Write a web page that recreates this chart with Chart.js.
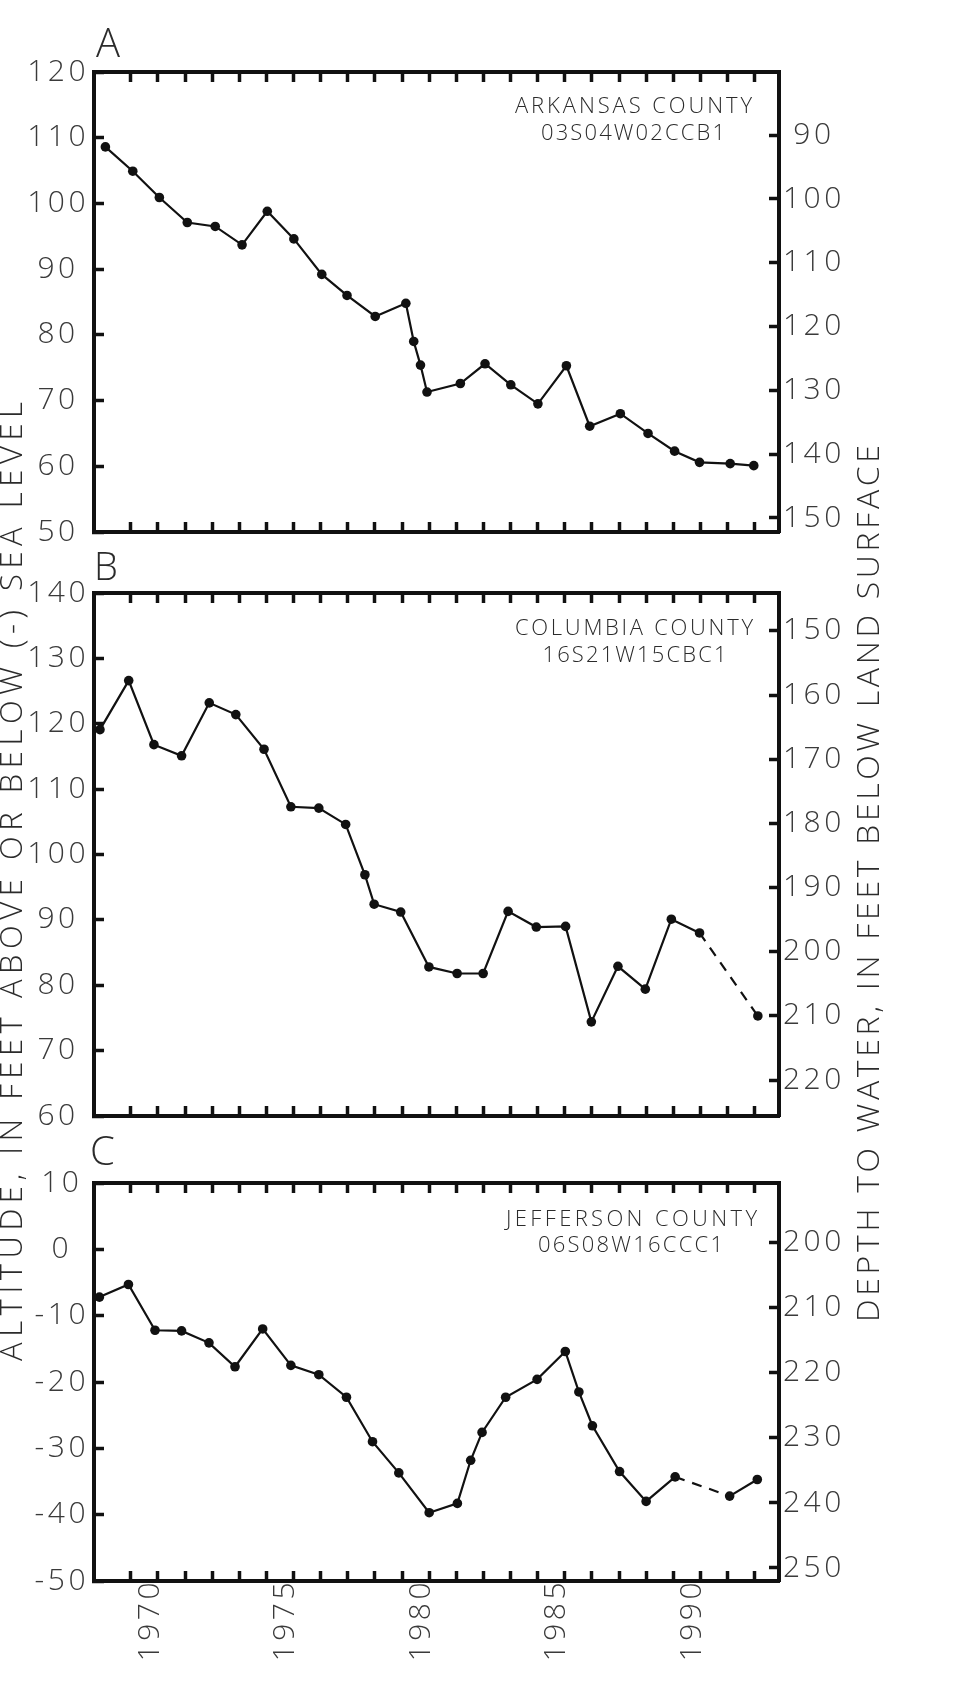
<!DOCTYPE html>
<html>
<head>
<meta charset="utf-8">
<script src="https://cdn.jsdelivr.net/npm/chart.js@4.4.1/dist/chart.umd.min.js"></script>
<style>
  html, body { margin: 0; padding: 0; background: #fff; }
  #page { position: relative; width: 972px; height: 1684px; overflow: hidden; background: #fff; }
  canvas { position: absolute; left: 0; }
  svg { position: absolute; left: 0; top: 0; }
  svg text { font-family: 'Open Sans', 'DejaVu Sans', sans-serif; font-weight: 300; fill: #2b2b2b; }
</style>
</head>
<body>
<div id="page">
  <canvas id="chartA" width="972" height="533" style="top:32px"></canvas>
  <canvas id="chartB" width="972" height="596" style="top:553px"></canvas>
  <canvas id="chartC" width="972" height="541" style="top:1143px"></canvas>
  <svg width="972" height="1684">
    <text x="96" y="57" font-size="40">A</text>
    <text x="94" y="580" font-size="38">B</text>
    <text x="90" y="1165" font-size="40">C</text>

    <text x="633.5" y="112.5" font-size="22" text-anchor="middle" textLength="237" lengthAdjust="spacing">ARKANSAS COUNTY</text>
    <text x="633" y="140" font-size="22" text-anchor="middle" textLength="184" lengthAdjust="spacing">03S04W02CCB1</text>
    <text x="634" y="635" font-size="22" text-anchor="middle" textLength="238" lengthAdjust="spacing">COLUMBIA COUNTY</text>
    <text x="634.5" y="661.5" font-size="22" text-anchor="middle" textLength="184" lengthAdjust="spacing">16S21W15CBC1</text>
    <text x="631.5" y="1225.5" font-size="22" text-anchor="middle" textLength="251" lengthAdjust="spacing">JEFFERSON COUNTY</text>
    <text x="630.5" y="1252" font-size="22" text-anchor="middle" textLength="185" lengthAdjust="spacing">06S08W16CCC1</text>

    <text transform="translate(22,881.5) rotate(-90)" text-anchor="middle" font-size="31" textLength="959" lengthAdjust="spacing">ALTITUDE, IN FEET ABOVE OR BELOW (-) SEA LEVEL</text>
    <text transform="translate(879,883.5) rotate(-90)" text-anchor="middle" font-size="32" textLength="877" lengthAdjust="spacing">DEPTH TO WATER, IN FEET BELOW LAND SURFACE</text>
  </svg>
</div>
<script>
// shared time axis: a tick every year, a label every five
const yearTicks = [1969, 1970, 1971, 1972, 1973, 1974, 1975, 1976, 1977, 1978, 1979, 1980,
                   1981, 1982, 1983, 1984, 1985, 1986, 1987, 1988, 1989, 1990, 1991, 1992];
const yearLabels = [1970, 1975, 1980, 1985, 1990];
const X_MIN = 1967.64, X_MAX = 1992.9;

// A - Arkansas County well 03S04W02CCB1
const yearsA = [1968.06, 1969.07, 1970.05, 1971.08, 1972.11, 1973.1, 1974.03, 1975.01, 1976.04, 1976.97,
                1978.01, 1979.14, 1979.43, 1979.68, 1979.92, 1981.15, 1982.06, 1983.01, 1984.01, 1985.06,
                1985.92, 1987.05, 1988.07, 1989.05, 1989.97, 1991.1, 1991.97];
const altA = [108.6, 104.9, 100.9, 97.1, 96.5, 93.7, 98.8, 94.6, 89.2, 86.0,
              82.8, 84.8, 79.0, 75.4, 71.3, 72.6, 75.6, 72.4, 69.5, 75.3,
              66.1, 68.0, 65.0, 62.3, 60.6, 60.4, 60.1];
const depthTicksA = [90, 100, 110, 120, 130, 140, 150];

// B - Columbia County well 16S21W15CBC1
const yearsB = [1967.86, 1968.92, 1969.85, 1970.87, 1971.89, 1972.87, 1973.91, 1974.9, 1975.93, 1976.92,
                1977.63, 1977.97, 1978.95, 1979.99, 1981.03, 1981.99, 1982.91, 1983.95, 1985.03, 1985.98,
                1986.96, 1987.97, 1988.93, 1989.97, 1992.12];
const altB = [119.1, 126.6, 116.8, 115.1, 123.2, 121.4, 116.1, 107.3, 107.1, 104.6,
              96.9, 92.4, 91.2, 82.8, 81.8, 81.8, 91.3, 88.9, 89.0, 74.4,
              82.9, 79.4, 90.1, 88.0, 75.3];
const dashedB = [23];   // segment 1990 -> 1992 is dashed
const depthTicksB = [150, 160, 170, 180, 190, 200, 210, 220];

// C - Jefferson County well 06S08W16CCC1
const yearsC = [1967.84, 1968.91, 1969.89, 1970.87, 1971.88, 1972.84, 1973.86, 1974.9, 1975.93, 1976.95,
                1977.91, 1978.88, 1980.0, 1981.04, 1981.53, 1981.95, 1982.82, 1983.98, 1985.02, 1985.52,
                1986.02, 1987.02, 1988.0, 1989.07, 1991.08, 1992.1];
const altC = [-7.2, -5.3, -12.2, -12.3, -14.1, -17.7, -12.0, -17.5, -18.9, -22.3,
              -29.0, -33.7, -39.7, -38.3, -31.8, -27.6, -22.3, -19.6, -15.4, -21.5,
              -26.6, -33.5, -38.0, -34.3, -37.2, -34.7];
const dashedC = [23];   // segment 1989 -> 1991 is dashed
const depthTicksC = [200, 210, 220, 230, 240, 250];

const ink = '#111';
const labelInk = '#3a3a3a';
const tickFont = { family: "'Open Sans', 'DejaVu Sans', sans-serif", size: 30, weight: 300 };
const edge = { display: true, color: ink, width: 4 };

// the old plotter lettering is widely spaced
const spacedLetters = {
  id: 'spacedLetters',
  beforeUpdate: chart => { chart.ctx.letterSpacing = '3.5px'; },
  beforeDraw: chart => { chart.ctx.letterSpacing = '3.5px'; }
};

// tick marks pointing into the plot
function inwardGrid() {
  return { drawOnChartArea: false, drawTicks: true, tickLength: -10, tickWidth: 3.5, tickColor: ink };
}

function makePanel(id, years, alt, dashed, altMin, altMax, depthMin, depthMax, depthTicks, withYears) {
  const xCommon = {
    type: 'linear', min: X_MIN, max: X_MAX,
    grid: inwardGrid(), border: edge,
    afterBuildTicks: s => { s.ticks = yearTicks.map(v => ({ value: v })); }
  };
  return new Chart(document.getElementById(id), {
    type: 'line',
    data: {
      datasets: [{
        data: years.map((x, i) => ({ x, y: alt[i] })),
        borderColor: ink, borderWidth: 2.2, tension: 0,
        pointRadius: 4.8, pointBackgroundColor: ink, pointBorderWidth: 0,
        segment: { borderDash: c => dashed.includes(c.p0DataIndex) ? [10, 8] : undefined }
      }]
    },
    plugins: [spacedLetters],
    options: {
      responsive: false, animation: false, events: [],
      layout: { padding: 0 },
      plugins: { legend: { display: false }, tooltip: { enabled: false } },
      scales: {
        x: {
          ...xCommon, position: 'bottom',
          ticks: {
            display: withYears, autoSkip: false, minRotation: 90, maxRotation: 90,
            padding: 8, labelOffset: -8, color: labelInk, font: tickFont,
            callback: v => yearLabels.includes(v) ? String(v) : ''
          },
          afterFit: s => { s.height = withYears ? 103 : 30; }
        },
        x2: {
          ...xCommon, position: 'top',
          ticks: { display: false },
          afterFit: s => { s.height = 40; }
        },
        y: {
          position: 'left', min: altMin, max: altMax,
          ticks: { stepSize: 10, crossAlign: 'center', padding: 15, color: labelInk, font: tickFont },
          grid: inwardGrid(), border: edge,
          afterFit: s => { s.width = 94; }
        },
        y2: {
          position: 'right', reverse: true, min: depthMin, max: depthMax,
          afterBuildTicks: s => { s.ticks = depthTicks.map(v => ({ value: v })); },
          ticks: { crossAlign: 'center', padding: 14, color: labelInk, font: tickFont },
          grid: inwardGrid(), border: edge,
          afterFit: s => { s.width = 193; }
        }
      }
    }
  });
}

makePanel('chartA', yearsA, altA, [], 50, 120, 80.1, 152.2, depthTicksA, false);
makePanel('chartB', yearsB, altB, dashedB, 60, 140, 144.1, 225.6, depthTicksB, false);
makePanel('chartC', yearsC, altC, dashedC, -50, 10, 190.8, 252, depthTicksC, true);
</script>
</body>
</html>
